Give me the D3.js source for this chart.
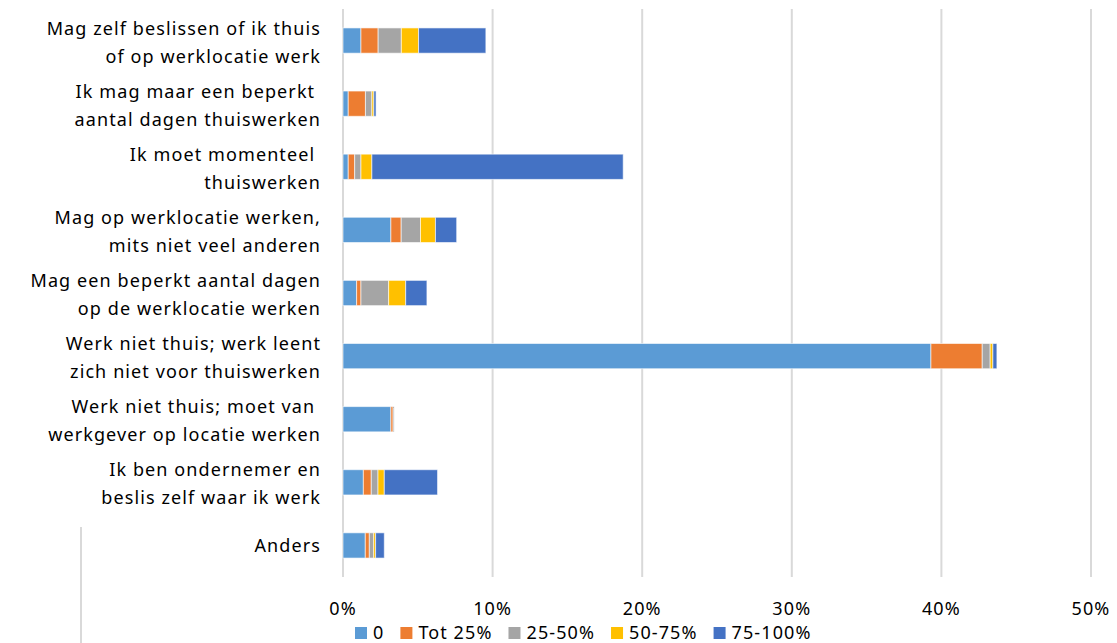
<!DOCTYPE html>
<html>
<head>
<meta charset="utf-8">
<script src="https://cdn.jsdelivr.net/npm/d3@7"></script>
<style>
  body { margin: 0; background: #fff; }
  svg { display: block; font-family: "Noto Sans", "Open Sans", sans-serif; }
</style>
</head>
<body>
<div id="chart"></div>
<script>
// categories, two lines per label as in the picture
const categories = [
  ["Mag zelf beslissen of ik thuis", "of op werklocatie werk"],
  ["Ik mag maar een beperkt ", "aantal dagen thuiswerken"],
  ["Ik moet momenteel ", "thuiswerken"],
  ["Mag op werklocatie werken,", "mits niet veel anderen"],
  ["Mag een beperkt aantal dagen", "op de werklocatie werken"],
  ["Werk niet thuis; werk leent", "zich niet voor thuiswerken"],
  ["Werk niet thuis; moet van ", "werkgever op locatie werken"],
  ["Ik ben ondernemer en", "beslis zelf waar ik werk"],
  ["Anders"]
];
const seriesNames = ["0", "Tot 25%", "25-50%", "50-75%", "75-100%"];
const seriesColors = ["#5B9BD5", "#ED7D31", "#A5A5A5", "#FFC000", "#4472C4"];

// values in percent, per series, in category order
const s0      = [1.20, 0.35, 0.35, 3.20, 0.91, 39.3, 3.20, 1.36, 1.49];
const sTot25  = [1.15, 1.15, 0.43, 0.69, 0.29, 3.43, 0.15, 0.53, 0.27];
const s25_50  = [1.55, 0.43, 0.42, 1.29, 1.85, 0.53, 0.07, 0.45, 0.29];
const s50_75  = [1.15, 0.13, 0.73, 1.00, 1.14, 0.18, 0.00, 0.42, 0.13];
const s75_100 = [4.50, 0.15, 16.8, 1.42, 1.42, 0.27, 0.00, 3.56, 0.58];
const xTicks = [0, 10, 20, 30, 40, 50];

const W = 1117, H = 643;
const margin = { top: 9, left: 343, right: 26, bottom: 65 };
const fontSize = "18px", spacing = "1.1px";

const svg = d3.select("#chart").append("svg")
    .attr("width", W)
    .attr("height", H);

// stray divider line seen at the lower left
svg.append("line")
    .attr("x1", 81).attr("x2", 81)
    .attr("y1", 527).attr("y2", H)
    .style("stroke", "#d9d9d9")
    .style("stroke-width", 2);

const table = categories.map((c, i) => ({
    key: i,
    "0": s0[i], "Tot 25%": sTot25[i], "25-50%": s25_50[i], "50-75%": s50_75[i], "75-100%": s75_100[i]
}));

const x = d3.scaleLinear()
    .domain([0, 50])
    .range([margin.left, W - margin.right]);

const y = d3.scaleBand()
    .domain(categories.map((c, i) => i))
    .range([margin.top, H - margin.bottom - 1])
    .paddingInner(0.6)
    .paddingOuter(0.3);

const color = d3.scaleOrdinal().domain(seriesNames).range(seriesColors);

//Gridlines
svg.append("g")
    .selectAll("line")
    .data(xTicks)
    .join("line")
    .attr("x1", d => x(d)).attr("x2", d => x(d))
    .attr("y1", margin.top).attr("y2", H - margin.bottom - 1)
    .style("stroke", "#d9d9d9")
    .style("stroke-width", 2);

//Tick labels
svg.append("g")
    .selectAll("text")
    .data(xTicks)
    .join("text")
    .attr("x", d => x(d))
    .attr("y", 615)
    .attr("text-anchor", "middle")
    .style("font-size", fontSize)
    .style("letter-spacing", spacing)
    .style("fill", "#000")
    .text(d => d + "%");

//Stacked bars
const stack = d3.stack().keys(seriesNames);
const layers = stack(table);

svg.append("g")
    .selectAll("g")
    .data(layers)
    .join("g")
    .style("fill", d => color(d.key))
    .selectAll("rect")
    .data(d => d)
    .join("rect")
    .attr("x", d => x(d[0]))
    .attr("width", d => Math.max(0, x(d[1]) - x(d[0])))
    .attr("y", d => y(d.data.key))
    .attr("height", y.bandwidth())
    .style("stroke", "#fff")
    .style("stroke-opacity", 0.6)
    .style("stroke-width", 1);

//Category labels
const labels = svg.append("g")
    .selectAll("text")
    .data(categories)
    .join("text")
    .attr("text-anchor", "end")
    .attr("xml:space", "preserve")
    .style("font-size", fontSize)
    .style("letter-spacing", spacing)
    .style("fill", "#000")
    .attr("transform", (d, i) => "translate(321," + (y(i) + y.bandwidth() / 2) + ")");

labels.selectAll("tspan")
    .data(d => d.map((t, j) => ({ t, j, n: d.length })))
    .join("tspan")
    .attr("x", 0)
    .attr("y", d => d.n === 1 ? 7 : (d.j === 0 ? -6 : 22))
    .text(d => d.t);

//Legend
const legend = svg.append("g").attr("transform", "translate(355,0)");
let lx = 0;
seriesNames.forEach(name => {
    const item = legend.append("g").attr("transform", "translate(" + lx + ",0)");
    item.append("rect")
        .attr("x", 0).attr("y", 627)
        .attr("width", 12).attr("height", 12)
        .style("fill", color(name));
    const t = item.append("text")
        .attr("x", 18).attr("y", 639)
        .style("font-size", fontSize)
        .style("letter-spacing", spacing)
        .style("fill", "#000")
        .text(name);
    lx += 18 + t.node().getComputedTextLength() + 16;
});
</script>
</body>
</html>
